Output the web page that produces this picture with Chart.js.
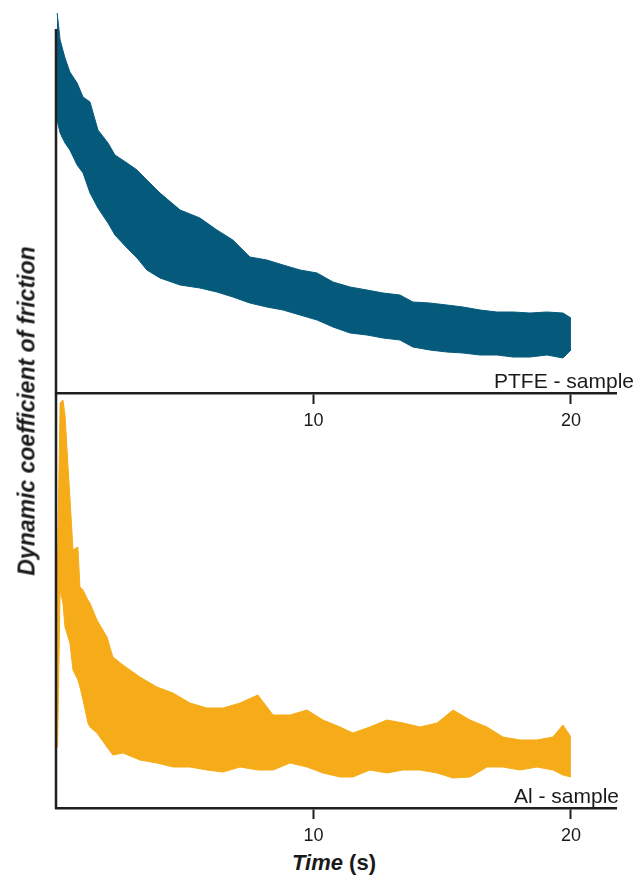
<!DOCTYPE html>
<html>
<head>
<meta charset="utf-8">
<script src="https://cdn.jsdelivr.net/npm/chart.js@4.4.1/dist/chart.umd.min.js"></script>
<style>
  html, body { margin: 0; padding: 0; background: #fff; }
  body { width: 644px; height: 877px; position: relative; overflow: hidden; font-family: "Liberation Sans", Arial, sans-serif; }
  canvas { position: absolute; left: 0; }
  #cTop { top: 0; }
  #cBot { top: 380px; }
  .lbl { position: absolute; font-size: 21px; color: #1a1a1a; white-space: nowrap; line-height: 1; }
  #yTitle { position: absolute; left: 27px; top: 411px; transform: translate(-50%, -50%) rotate(-90deg);
            font-size: 23px; font-weight: bold; font-style: italic; color: #1a1a1a; white-space: nowrap; }
  #xTitle { position: absolute; left: 334px; top: 852px; transform: translateX(-50%);
            font-size: 22px; font-weight: bold; color: #1a1a1a; white-space: nowrap; line-height: 1; }
</style>
</head>
<body>
<canvas id="cTop" width="644" height="433"></canvas>
<canvas id="cBot" width="644" height="468"></canvas>
<div id="yTitle">Dynamic coefficient of friction</div>
<div id="xTitle"><i>Time</i> (s)</div>
<div class="lbl" id="lblTop" style="left:494px; top:370px;">PTFE - sample</div>
<div class="lbl" id="lblBot" style="left:514px; top:785px;">Al - sample</div>
<script>
// x ticks shown
const xTicks = [10, 20];

// PTFE sample: time (s) and envelope of the noisy signal (upper / lower)
const ptfeTime = [0.04, 0.16, 0.35, 0.54, 0.82, 1.05, 1.32, 1.63, 2.02, 2.29,
  2.76, 3.15, 3.53, 4.04, 4.82, 5.59, 6.25, 6.87, 7.53, 8.19,
  8.82, 9.48, 10.14, 10.76, 11.42, 12.08, 12.70, 13.36, 13.86, 14.52,
  15.18, 15.81, 16.47, 17.13, 17.75, 18.41, 19.07, 19.69, 20.0];
const ptfeUpper = [0.381, 0.353, 0.335, 0.321, 0.310, 0.296, 0.291, 0.263, 0.250, 0.238,
  0.230, 0.223, 0.213, 0.200, 0.183, 0.175, 0.163, 0.153, 0.136, 0.133,
  0.128, 0.123, 0.120, 0.111, 0.106, 0.103, 0.100, 0.098, 0.091, 0.090,
  0.088, 0.086, 0.083, 0.081, 0.081, 0.080, 0.081, 0.080, 0.075];
const ptfeLower = [0.273, 0.260, 0.250, 0.243, 0.228, 0.220, 0.200, 0.185, 0.170, 0.158,
  0.145, 0.135, 0.123, 0.115, 0.108, 0.105, 0.101, 0.096, 0.090, 0.086,
  0.083, 0.078, 0.073, 0.066, 0.060, 0.058, 0.055, 0.053, 0.046, 0.043,
  0.041, 0.040, 0.038, 0.038, 0.036, 0.036, 0.038, 0.035, 0.043];

// Al sample
const alTime = [0.02, 0.06, 0.16, 0.27, 0.35, 0.47, 0.54, 0.66, 0.85, 0.93,
  1.05, 1.24, 1.32, 1.59, 1.98, 2.21, 2.60, 3.26, 3.92, 4.54,
  5.20, 5.86, 6.49, 7.15, 7.84, 8.43, 9.09, 9.75, 10.37, 11.03,
  11.53, 12.19, 12.85, 13.48, 14.14, 14.80, 15.42, 16.08, 16.74, 17.36,
  18.02, 18.68, 19.30, 19.69, 20.0];
const alUpper = [0.061, 0.248, 0.405, 0.408, 0.393, 0.340, 0.311, 0.258, 0.261, 0.221,
  0.218, 0.208, 0.205, 0.188, 0.171, 0.151, 0.143, 0.131, 0.121, 0.115,
  0.105, 0.100, 0.100, 0.105, 0.113, 0.093, 0.093, 0.098, 0.088, 0.081,
  0.075, 0.081, 0.088, 0.085, 0.081, 0.085, 0.098, 0.088, 0.081, 0.071,
  0.068, 0.068, 0.071, 0.083, 0.071];
const alLower = [0.061, 0.061, 0.218, 0.205, 0.181, 0.171, 0.165, 0.138, 0.128, 0.121,
  0.108, 0.085, 0.081, 0.075, 0.061, 0.053, 0.055, 0.048, 0.045, 0.041,
  0.041, 0.038, 0.036, 0.041, 0.038, 0.038, 0.045, 0.041, 0.035, 0.031,
  0.031, 0.038, 0.035, 0.038, 0.038, 0.035, 0.030, 0.031, 0.041, 0.041,
  0.038, 0.041, 0.038, 0.033, 0.031];

const BLUE = "#055a7b";
const ORANGE = "#f5ac18";
const AXIS = "#1e1e1e";

function pts(xs, ys) {
  return xs.map((x, i) => ({ x: x, y: ys[i] }));
}

// left axis line (can stop below the top of the plot area)
const yLinePlugin = {
  id: "yLine",
  afterDraw(chart, args, opts) {
    const ctx = chart.ctx;
    const a = chart.chartArea;
    const yTop = chart.scales.y.getPixelForValue(opts.top);
    ctx.save();
    ctx.strokeStyle = AXIS;
    ctx.lineWidth = 2.5;
    ctx.beginPath();
    ctx.moveTo(a.left, yTop);
    ctx.lineTo(a.left, a.bottom + 1);
    ctx.stroke();
    ctx.restore();
  }
};

function makeChart(id, time, upper, lower, color, yMax, axisTop) {
  const ctx = document.getElementById(id).getContext("2d");
  return new Chart(ctx, {
    type: "line",
    data: {
      datasets: [
        { data: pts(time, upper), borderColor: color, backgroundColor: color, borderWidth: 1, pointRadius: 0, fill: false },
        { data: pts(time, lower), borderColor: color, backgroundColor: color, borderWidth: 1, pointRadius: 0, fill: "-1" }
      ]
    },
    options: {
      responsive: false,
      animation: false,
      layout: { padding: { left: 56, right: 28, top: 13, bottom: 0 } },
      elements: { line: { tension: 0 } },
      plugins: { legend: { display: false }, tooltip: { enabled: false }, yLine: { top: axisTop } },
      scales: {
        x: {
          type: "linear", min: 0, max: 21.75,
          afterBuildTicks: s => { s.ticks = xTicks.map(v => ({ value: v })); },
          afterFit: s => { s.height = 40; },
          border: { display: true, color: AXIS, width: 2.5 },
          grid: { display: true, drawOnChartArea: false, drawTicks: true, tickLength: 11, tickWidth: 2, tickColor: AXIS },
          ticks: { color: "#1a1a1a", padding: 6, font: { family: "Liberation Sans", size: 18 } }
        },
        y: { display: false, min: 0, max: yMax }
      }
    },
    plugins: [yLinePlugin]
  });
}

makeChart("cTop", ptfeTime, ptfeUpper, ptfeLower, BLUE, 0.38, 0.364);
makeChart("cBot", alTime, alUpper, alLower, ORANGE, 0.415, 0.415);
</script>
</body>
</html>
